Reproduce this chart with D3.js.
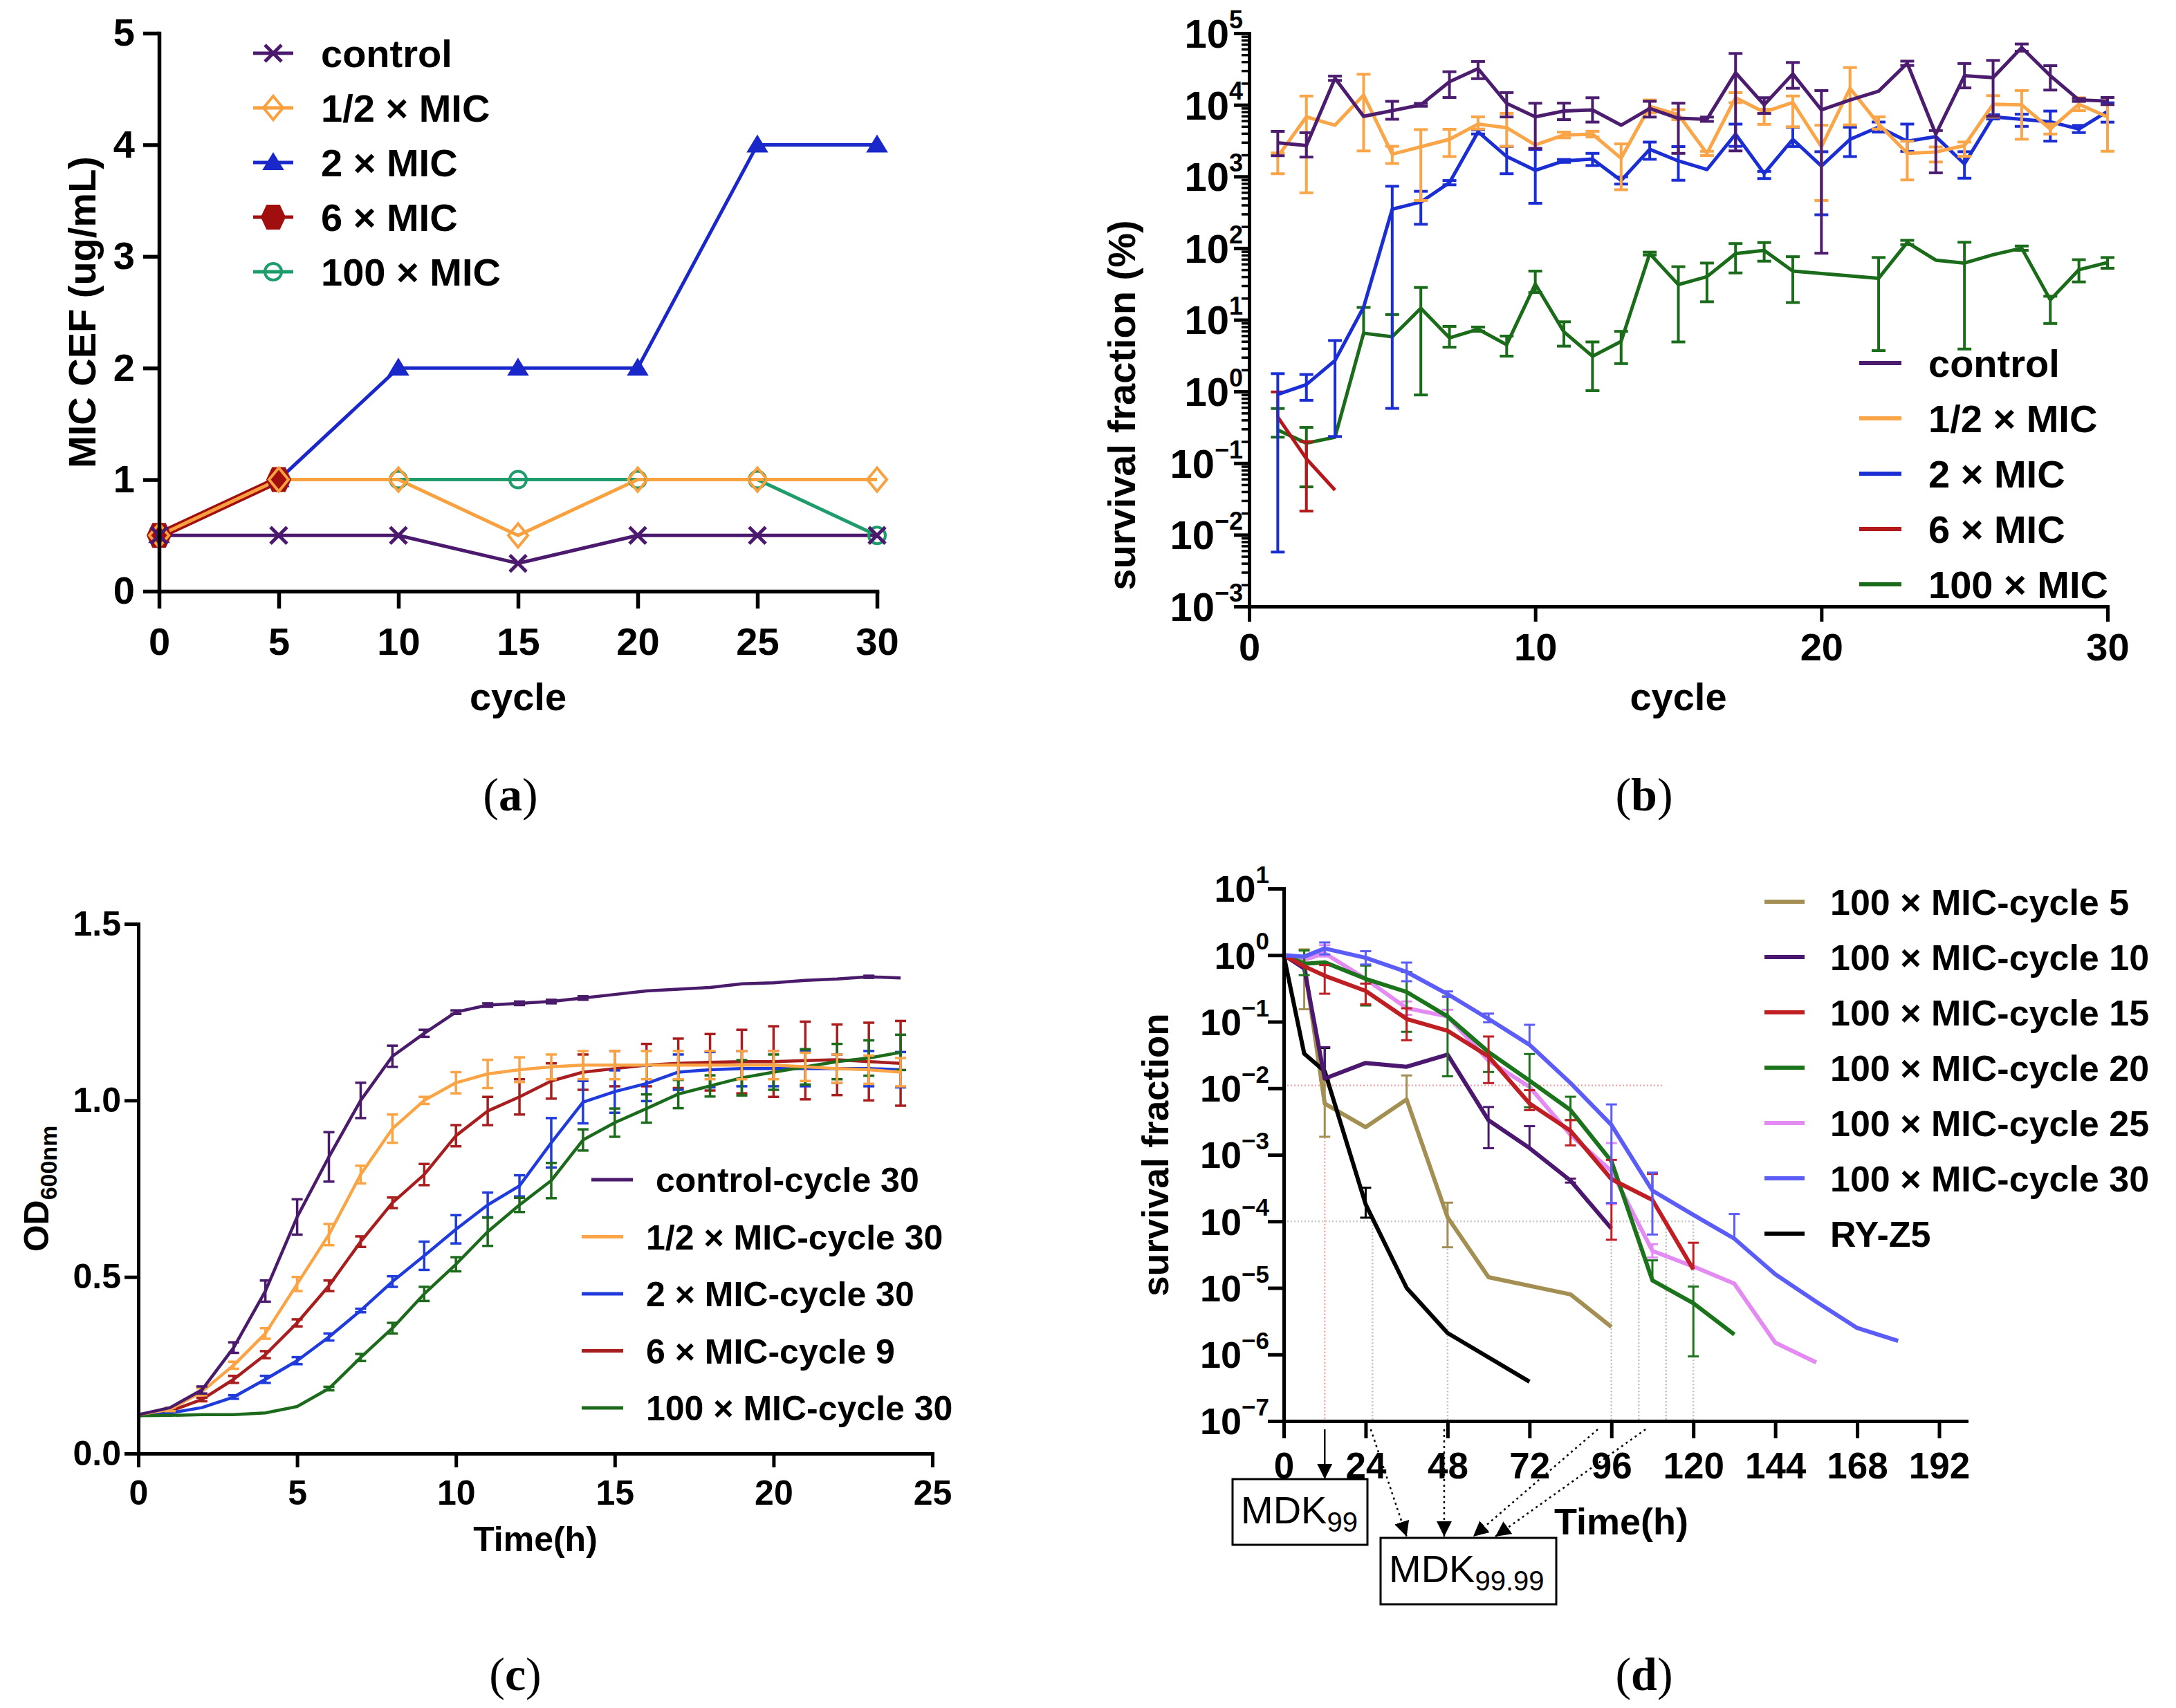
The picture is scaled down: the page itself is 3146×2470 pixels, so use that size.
<!DOCTYPE html>
<html><head><meta charset="utf-8">
<script src="https://cdn.jsdelivr.net/npm/d3@7"></script>
<style>html,body{margin:0;padding:0;background:#fff}svg{display:block}</style>
</head><body>
<script>
// ===================== DATA =====================
// ---- Panel (a): MIC over cycles ----
const aCycles = [0,5,10,15,20,25,30];
const aControl = [0.5,0.5,0.5,0.25,0.5,0.5,0.5];
const aHalfMIC = [0.5,1,1,0.5,1,1,1];
const aTwoMIC = [0.5,1,2,2,2,4,4];
const aSixCycles = [0,5];
const aSixMIC = [0.5,1];
const aHundredMIC = [0.5,1,1,1,1,1,0.5];
const aXTicks = [0,5,10,15,20,25,30];
const aYTicks = [0,1,2,3,4,5];

// ---- Panel (b): survival fraction (%) per cycle ----
const bCycles = [1,2,3,4,5,6,7,8,9,10,11,12,13,14,15,16,17,18,19,20,21,22,23,24,25,26,27,28,29,30];
const bControl = [2950,2700,23500,6900,8300,10000,21000,32000,10500,6800,8200,8500,5200,8900,6500,6300,28000,10000,27000,8500,11700,15500,38000,3900,25500,24000,63000,25500,11700,11300];
const bControlUp = [.16,.18,.03,0,.13,.02,.14,.1,.15,.19,.11,.17,0,.1,.21,.03,.27,.1,.16,.27,0,0,.03,.05,.17,.24,.05,.14,.02,.05];
const bControlDn = [.18,.16,.03,0,.12,.02,.22,.14,.19,.44,.12,.17,0,.12,.49,.03,1.09,.12,.2,2.0,0,0,.03,.54,.17,.54,.05,.2,.02,.05];
const bHalf = [1900,6800,5200,13700,2050,2600,3300,5400,4800,2750,3800,3900,1800,9500,7300,2100,12600,7900,10800,2600,17000,5400,2100,2200,2700,10200,10000,4600,10200,6800];
const bHalfUp = [.05,.29,0,.29,.11,.24,.14,.1,.2,0,.04,.04,.2,.09,.07,.03,.07,.04,.09,.3,.29,.1,.17,.07,.05,.12,.2,.07,.09,.27];
const bHalfDn = [.24,1.06,0,.78,.13,.75,.24,.07,.26,0,.04,.04,.44,.09,.07,.03,.07,.17,.34,.75,.51,.07,.37,.14,.15,.18,.48,.07,.09,.48];
const bTwo = [0.91,1.25,2.7,15,350,440,820,4200,1900,1220,1650,1750,880,2400,1650,1250,3900,1100,3300,1400,3300,4900,3100,3600,1500,6800,6300,5800,4600,8100];
const bTwoUp = [.29,.14,.28,0,.32,.15,.03,.03,.14,.29,.02,.08,.05,.1,.2,0,.14,.03,.17,.2,.17,.07,.24,0,.17,.03,.07,.15,.05,.12];
const bTwoDn = [2.2,.22,1.06,0,2.78,.31,.03,.03,.24,.46,.02,.09,.05,.14,.27,0,.17,.07,.1,.68,.24,.07,.14,0,.2,.03,.1,.27,.05,.15];
const bSixCycles = [1,2,3];
const bSix = [0.44,0.115,0.042];
const bSixUp = [.35,.24,0];
const bSixDn = [0,.73,0];
const bHundredCycles = [1,2,3,4,5,6,7,8,9,10,11,12,13,14,15,16,17,18,19,22,23,24,25,26,27,28,29,30];
const bHundred = [0.29,0.19,0.23,6.5,5.8,14.5,5.6,7.4,4.5,31.6,6.8,3.1,5,84,31,40,84,93,48,38,120,68,62,81,100,19,50,63];
const bHundredUp = [.3,.22,0,.36,.31,.29,.16,.03,.12,.18,.14,.2,.14,.02,.25,.19,.14,.11,.2,.29,.03,0,.29,0,.03,.05,.14,.07];
const bHundredDn = [.1,.61,0,0,0,1.21,.13,.03,.16,.12,.2,.48,.31,.02,.8,.35,.27,.15,.44,1.01,.03,0,1.2,0,.03,.33,.17,.08];
const bXTicks = [0,10,20,30];
const bYExps = [-3,-2,-1,0,1,2,3,4,5];

// ---- Panel (c): growth curves OD600 ----
const cHours = [0,1,2,3,4,5,6,7,8,9,10,11,12,13,14,15,16,17,18,19,20,21,22,23,24];
const cControl = [0.11,0.13,0.18,0.30,0.46,0.67,0.84,1.00,1.125,1.19,1.25,1.27,1.275,1.28,1.29,1.30,1.31,1.315,1.32,1.33,1.333,1.34,1.344,1.35,1.347];
const cControlErr = [0,0,0.01,0.015,0.03,0.05,0.07,0.05,0.03,0.01,0.005,0.005,0.005,0.005,0.005,0,0,0,0,0,0,0,0,0.003,0];
const cHalf = [0.11,0.125,0.175,0.25,0.34,0.48,0.62,0.79,0.92,1.0,1.05,1.075,1.087,1.095,1.1,1.1,1.1,1.1,1.1,1.1,1.1,1.095,1.09,1.087,1.08];
const cHalfErr = [0,0.005,0.01,0.01,0.015,0.02,0.03,0.025,0.04,0.01,0.03,0.04,0.035,0.035,0.04,0.04,0.04,0.04,0.04,0.04,0.04,0.04,0.04,0.04,0.04];
const cTwo = [0.107,0.115,0.13,0.16,0.21,0.263,0.33,0.405,0.487,0.56,0.635,0.704,0.758,0.88,0.995,1.025,1.048,1.08,1.087,1.09,1.09,1.09,1.09,1.09,1.087];
const cTwoErr = [0,0,0,0.005,0.01,0.01,0.01,0.005,0.015,0.04,0.04,0.035,0.03,0.07,0.06,0.06,0.05,0.05,0.05,0.05,0.05,0.05,0.04,0.05,0.05];
const cSix = [0.107,0.12,0.153,0.21,0.28,0.37,0.475,0.6,0.71,0.79,0.9,0.97,1.01,1.055,1.08,1.09,1.1,1.105,1.108,1.11,1.11,1.113,1.115,1.11,1.105];
const cSixErr = [0,0,0.005,0.01,0.01,0.01,0.015,0.015,0.015,0.03,0.03,0.04,0.05,0.05,0.05,0.05,0.06,0.07,0.08,0.09,0.1,0.11,0.1,0.11,0.12];
const cHundred = [0.107,0.108,0.11,0.11,0.115,0.133,0.184,0.272,0.355,0.452,0.536,0.628,0.704,0.773,0.888,0.937,0.977,1.018,1.041,1.064,1.08,1.095,1.11,1.12,1.136];
const cHundredErr = [0,0,0,0,0,0,0.005,0.01,0.015,0.02,0.02,0.04,0.02,0.05,0.03,0.04,0.04,0.04,0.03,0.05,0.05,0.05,0.05,0.05,0.05];
const cXTicks = [0,5,10,15,20,25];
const cYTicks = [0,0.5,1.0,1.5];

// ---- Panel (d): time-kill survival fraction ----
const dRYZ5T = [0,6,12,24,36,48,72];
const dRYZ5 = [1,0.033,0.018,1.8e-4,1e-5,2.1e-6,3.9e-7];
const dRYZ5Up = [0,0,.35,.25,0,0,0];
const dRYZ5Dn = [0,0,0,.2,0,0,0];
const dC5T = [0,6,12,24,36,48,60,84,96];
const dC5 = [1,0.77,5.9e-3,2.6e-3,6.8e-3,1.15e-4,1.45e-5,8e-6,2.6e-6];
const dC5Up = [0,.2,.35,0,.36,.22,0,0,0];
const dC5Dn = [0,.7,.5,0,0,.45,0,0,0];
const dC10T = [0,6,12,24,36,48,60,72,84,96];
const dC10 = [1,0.63,0.014,0.024,0.021,0.032,3.3e-3,1.26e-3,4.1e-4,7.8e-5];
const dC10Up = [0,0,.47,0,0,0,.2,.33,.03,0];
const dC10Dn = [0,0,0,0,0,0,.42,0,.03,0];
const dC15T = [0,6,12,24,36,48,60,72,84,96,108,120];
const dC15 = [1,0.68,0.49,0.29,0.11,0.073,0.030,5.9e-3,2.3e-3,4.3e-4,2.1e-4,1.9e-5];
const dC15Up = [0,0,.16,.11,.16,0,.3,.2,.16,.29,.39,.4];
const dC15Dn = [0,0,.27,.2,.32,0,.4,.1,.22,.91,0,0];
const dC20T = [0,6,12,24,36,48,60,72,84,96,108,120,132];
const dC20 = [1,0.74,0.78,0.44,0.28,0.12,0.035,0.013,4.7e-3,8e-4,1.3e-5,5.9e-6,2e-6];
const dC20Up = [0,.2,0,.2,.3,.3,0,.4,.2,0,.3,.25,0];
const dC20Dn = [0,.17,0,.4,.6,.9,.3,.4,.15,0,0,.8,0];
const dC25T = [0,6,12,24,36,48,60,72,84,96,108,120,132,144,156];
const dC25 = [1,0.85,1.07,0.44,0.16,0.12,0.026,0.0105,2e-3,5.7e-4,3.6e-5,2.1e-5,1.16e-5,1.5e-6,7.6e-7];
const dC25Up = [0,0,.12,0,.1,.1,0,0,0,.42,.1,0,0,0,0];
const dC25Dn = [0,0,.05,0,.1,0,0,0,0,.5,.1,0,0,0,0];
const dC30T = [0,6,12,24,36,48,60,72,84,96,108,120,132,144,156,168,180];
const dC30 = [1,0.95,1.26,0.91,0.56,0.26,0.11,0.045,0.012,2.8e-3,2.9e-4,1.25e-4,5.5e-5,1.6e-5,6.2e-6,2.5e-6,1.6e-6];
const dC30Up = [0,0,.09,.1,.14,.04,.08,.3,0,.31,.27,0,.37,0,0,0,0];
const dC30Dn = [0,0,.09,.1,.14,.04,.05,0,0,1.17,.66,0,0,0,0,0,0];
const dXTicks = [0,24,48,72,96,120,144,168,192];
const dYExps = [-7,-6,-5,-4,-3,-2,-1,0,1];
// reference (threshold) lines: 99% and 99.99% kill
const dThreshold99 = 0.011, dThreshold9999 = 1e-4;
const dH99End = 111, dH9999End = 120;
const dV99Times = [12];
const dV9999Times = [26,48,96,104,112,120];
// arrows toward MDK boxes: [from time, to time]
const dArrow99 = [[12,12]];
const dArrow9999 = [[25.5,36],[47,47],[92,55.5],[106,62]];

// ===================== DRAWING =====================
const W = 3146, H = 2470;
const FF = '"Liberation Sans", Arial, Helvetica, sans-serif';
const SERIF = '"Liberation Serif", "Times New Roman", serif';
const svg = d3.select('body').append('svg').attr('width', W).attr('height', H);
svg.append('rect').attr('width', W).attr('height', H).attr('fill', '#fff');
const defs = svg.append('defs');
defs.append('marker').attr('id','ah').attr('viewBox','0 0 10 10').attr('refX',10).attr('refY',5)
  .attr('markerWidth',22).attr('markerHeight',22).attr('markerUnits','userSpaceOnUse').attr('orient','auto')
  .append('path').attr('d','M0,0L10,5L0,10Z').attr('fill','#000');

function styleAxis(g, sw, fs) {
  g.attr('font-size', null);
  g.select('.domain').attr('stroke', '#000').attr('stroke-width', sw).attr('stroke-linecap','square');
  g.selectAll('.tick line').attr('stroke', '#000').attr('stroke-width', sw);
  g.selectAll('.tick text').attr('fill', '#000').attr('font-family', FF).attr('font-weight', 'bold').attr('font-size', fs);
}
function txt(g, x, y, s, fs, opts = {}) {
  return g.append('text').attr('x', x).attr('y', y).text(s)
    .attr('font-family', opts.family || FF).attr('font-weight', opts.weight || 'bold')
    .attr('font-size', fs).attr('text-anchor', opts.anchor || 'start').attr('dy', opts.dy || null).attr('fill', '#000');
}
function rotLabel(g, x, y, s, fs) {
  return g.append('text').attr('transform', `translate(${x},${y}) rotate(-90)`).attr('text-anchor', 'middle')
    .attr('font-family', FF).attr('font-weight', 'bold').attr('font-size', fs).attr('fill','#000').text(s);
}
function logLabels(g, scale, exps, xRight, fs, supFs) {
  exps.forEach(e => {
    const t = g.append('text').attr('x', xRight).attr('y', scale(Math.pow(10, e))).attr('text-anchor', 'end')
      .attr('font-family', FF).attr('font-weight', 'bold').attr('font-size', fs).attr('fill','#000');
    t.append('tspan').attr('dy', '0.36em').text('10');
    t.append('tspan').attr('dy', '-0.78em').attr('font-size', supFs).text(e < 0 ? '\u2212' + (-e) : String(e));
  });
}
function errBar(g, x, yv, yLo, yHi, cap, color, sw) {
  g.append('line').attr('x1', x).attr('x2', x).attr('y1', yLo).attr('y2', yHi).attr('stroke', color).attr('stroke-width', sw);
  if (Math.abs(yHi - yv) > 1) g.append('line').attr('x1', x - cap/2).attr('x2', x + cap/2).attr('y1', yHi).attr('y2', yHi).attr('stroke', color).attr('stroke-width', sw);
  if (Math.abs(yLo - yv) > 1) g.append('line').attr('x1', x - cap/2).attr('x2', x + cap/2).attr('y1', yLo).attr('y2', yLo).attr('stroke', color).attr('stroke-width', sw);
}
function panelLabel(x, y, letter) {
  const t = svg.append('text').attr('x', x).attr('y', y).attr('text-anchor', 'middle')
    .attr('font-family', SERIF).attr('font-size', 68).attr('fill','#000');
  t.append('tspan').text('(');
  t.append('tspan').attr('font-weight', 'bold').text(letter);
  t.append('tspan').text(')');
}

// ---------- Panel (a) ----------
(function () {
  const g = svg.append('g');
  const x = d3.scaleLinear().domain([0, 30]).range([230, 1268]);
  const y = d3.scaleLinear().domain([0, 5]).range([855, 48]);
  const series = [
    { name: 'control', xs: aCycles, ys: aControl, color: '#4B1A6E', marker: 'x', lw: 5 },
    { name: '1/2 × MIC', xs: aCycles, ys: aHalfMIC, color: '#F9A03F', marker: 'diamond', lw: 5 },
    { name: '2 × MIC', xs: aCycles, ys: aTwoMIC, color: '#1A27C9', marker: 'triangle', lw: 5 },
    { name: '6 × MIC', xs: aSixCycles, ys: aSixMIC, color: '#A00E0E', marker: 'hexagon', lw: 12 },
    { name: '100 × MIC', xs: aCycles, ys: aHundredMIC, color: '#1E9C6B', marker: 'circle', lw: 5 }
  ];
  const markerPath = {
    x: 'M-12,-12L12,12M-12,12L12,-12',
    diamond: 'M0,-17L14,0L0,17L-14,0Z',
    triangle: 'M0,-13L14,10L-14,10Z',
    hexagon: 'M-9,-17L9,-17L17,0L9,17L-9,17L-17,0Z',
    circle: 'M12,0A12,12 0 1,1 -12,0A12,12 0 1,1 12,0Z'
  };
  function drawMarker(gg, s, cx, cy) {
    const p = gg.append('path').attr('d', markerPath[s.marker]).attr('transform', `translate(${cx},${cy})`);
    if (s.marker === 'triangle' || s.marker === 'hexagon') p.attr('fill', s.color).attr('stroke', s.color).attr('stroke-width', 2);
    else p.attr('fill', 'none').attr('stroke', s.color).attr('stroke-width', s.marker === 'x' ? 5 : 4);
  }
  const line = d3.line().x(d => x(d[0])).y(d => y(d[1]));
  const drawOrder = [4, 2, 3, 1, 0];
  drawOrder.forEach(i => {
    const s = series[i];
    const pts = s.xs.map((c, k) => [c, s.ys[k]]);
    g.append('path').attr('d', line(pts)).attr('fill', 'none').attr('stroke', s.color).attr('stroke-width', s.lw).attr('stroke-linejoin','round');
  });
  drawOrder.forEach(i => {
    const s = series[i];
    s.xs.forEach((c, k) => drawMarker(g, s, x(c), y(s.ys[k])));
  });
  g.append('g').attr('transform', `translate(0,${y(0)})`)
    .call(d3.axisBottom(x).tickValues(aXTicks).tickFormat(d3.format('d')).tickSize(25).tickSizeOuter(0).tickPadding(27)).call(styleAxis, 5.5, 56);
  g.append('g').attr('transform', `translate(${x(0)},0)`)
    .call(d3.axisLeft(y).tickValues(aYTicks).tickFormat(d3.format('d')).tickSize(23).tickSizeOuter(0).tickPadding(12)).call(styleAxis, 5.5, 56);
  txt(g, (x(0) + x(30)) / 2, 1027, 'cycle', 56, { anchor: 'middle' });
  rotLabel(g, 138, (y(0) + y(5)) / 2, 'MIC CEF (ug/mL)', 56);
  // legend
  series.forEach((s, i) => {
    const ly = 77 + i * 79;
    g.append('line').attr('x1', 366).attr('x2', 424).attr('y1', ly).attr('y2', ly).attr('stroke', s.color).attr('stroke-width', 5);
    drawMarker(g, s, 395, ly);
    txt(g, 464, ly, s.name, 56, { dy: '0.36em' });
  });
  panelLabel(738, 1172, 'a');
})();

// ---------- Panel (b) ----------
(function () {
  const g = svg.append('g');
  const x = d3.scaleLinear().domain([0, 30]).range([1806, 3047]);
  const y = d3.scaleLog().domain([1e-3, 1e5]).range([877, 48]);
  const series = [
    { name: 'control', xs: bCycles, ys: bControl, up: bControlUp, dn: bControlDn, color: '#4C1D6F' },
    { name: '1/2 × MIC', xs: bCycles, ys: bHalf, up: bHalfUp, dn: bHalfDn, color: '#F9A548' },
    { name: '2 × MIC', xs: bCycles, ys: bTwo, up: bTwoUp, dn: bTwoDn, color: '#1B2ED4' },
    { name: '6 × MIC', xs: bSixCycles, ys: bSix, up: bSixUp, dn: bSixDn, color: '#B5181B' },
    { name: '100 × MIC', xs: bHundredCycles, ys: bHundred, up: bHundredUp, dn: bHundredDn, color: '#1A6B1A' }
  ];
  const line = d3.line().x(d => x(d[0])).y(d => y(d[1]));
  const clampY = v => y(Math.max(1e-3, Math.min(1e5, v)));
  [4, 3, 2, 1, 0].forEach(i => {
    const s = series[i];
    s.xs.forEach((c, k) => {
      if (s.up[k] === 0 && s.dn[k] === 0) return;
      const v = s.ys[k];
      errBar(g, x(c), y(v), clampY(v / Math.pow(10, s.dn[k])), clampY(v * Math.pow(10, s.up[k])), 20, s.color, 4);
    });
    g.append('path').attr('d', line(s.xs.map((c, k) => [c, s.ys[k]]))).attr('fill', 'none')
      .attr('stroke', s.color).attr('stroke-width', 5).attr('stroke-linejoin', 'round');
  });
  g.append('g').attr('transform', `translate(0,${y(1e-3)})`)
    .call(d3.axisBottom(x).tickValues(bXTicks).tickSize(22).tickSizeOuter(0).tickPadding(16)).call(styleAxis, 5, 56);
  const minor = [];
  bYExps.slice(0, -1).forEach(e => { for (let m = 2; m <= 9; m++) minor.push(m * Math.pow(10, e)); });
  g.append('g').attr('transform', `translate(${x(0)},0)`)
    .call(d3.axisLeft(y).tickValues(minor).tickSize(11).tickSizeOuter(0).tickFormat('')).call(styleAxis, 3.5, 10);
  g.append('g').attr('transform', `translate(${x(0)},0)`)
    .call(d3.axisLeft(y).tickValues(bYExps.map(e => Math.pow(10, e))).tickSize(22).tickSizeOuter(0).tickFormat('')).call(styleAxis, 5, 10);
  logLabels(g, y, bYExps, 1797, 58, 36);
  txt(g, (x(0) + x(30)) / 2, 1027, 'cycle', 56, { anchor: 'middle' });
  rotLabel(g, 1641, 586, 'survival fraction (%)', 56);
  series.forEach((s, i) => {
    const ly = 525 + i * 80;
    g.append('line').attr('x1', 2688).attr('x2', 2749).attr('y1', ly).attr('y2', ly).attr('stroke', s.color).attr('stroke-width', 6);
    txt(g, 2788, ly, s.name, 56, { dy: '0.36em' });
  });
  panelLabel(2377, 1172, 'b');
})();

// ---------- Panel (c) ----------
(function () {
  const g = svg.append('g');
  const x = d3.scaleLinear().domain([0, 25]).range([200, 1348]);
  const y = d3.scaleLinear().domain([0, 1.5]).range([2102, 1336]);
  const series = [
    { name: 'control-cycle 30', ys: cControl, err: cControlErr, color: '#4A1A6B', off: 14 },
    { name: '1/2 × MIC-cycle 30', ys: cHalf, err: cHalfErr, color: '#FBA445', off: 0 },
    { name: '2 × MIC-cycle 30', ys: cTwo, err: cTwoErr, color: '#1F3BDB', off: 0 },
    { name: '6 × MIC-cycle 9', ys: cSix, err: cSixErr, color: '#A81E1E', off: 0 },
    { name: '100 × MIC-cycle 30', ys: cHundred, err: cHundredErr, color: '#1C6B1C', off: 0 }
  ];
  const line = d3.line().x(d => x(d[0])).y(d => y(d[1]));
  [3, 2, 4, 1, 0].forEach(i => {
    const s = series[i];
    cHours.forEach((h, k) => {
      if (!s.err[k]) return;
      errBar(g, x(h), y(s.ys[k]), y(s.ys[k] - s.err[k]), y(s.ys[k] + s.err[k]), 16, s.color, 3.5);
    });
    g.append('path').attr('d', line(cHours.map((h, k) => [h, s.ys[k]]))).attr('fill', 'none')
      .attr('stroke', s.color).attr('stroke-width', 4.5).attr('stroke-linejoin', 'round');
  });
  g.append('g').attr('transform', `translate(0,${y(0)})`)
    .call(d3.axisBottom(x).tickValues(cXTicks).tickSize(20).tickSizeOuter(0).tickPadding(18)).call(styleAxis, 5, 50);
  g.append('g').attr('transform', `translate(${x(0)},0)`)
    .call(d3.axisLeft(y).tickValues(cYTicks).tickFormat(d3.format('.1f')).tickSize(20).tickSizeOuter(0).tickPadding(5)).call(styleAxis, 5, 50);
  txt(g, (x(0) + x(25)) / 2, 2243, 'Time(h)', 50, { anchor: 'middle' });
  const yl = g.append('text').attr('transform', `translate(70,${(y(0) + y(1.5)) / 2}) rotate(-90)`).attr('text-anchor', 'middle')
    .attr('font-family', FF).attr('font-weight', 'bold').attr('font-size', 50).attr('fill','#000');
  yl.append('tspan').text('OD');
  yl.append('tspan').attr('font-size', 34).attr('dy', '0.35em').text('600nm');
  series.forEach((s, i) => {
    const ly = 1706 + i * 82.5;
    g.append('line').attr('x1', 841 + s.off).attr('x2', 901 + s.off).attr('y1', ly).attr('y2', ly).attr('stroke', s.color).attr('stroke-width', 5);
    txt(g, 934 + s.off, ly, s.name, 50, { dy: '0.36em' });
  });
  panelLabel(745, 2444, 'c');
})();

// ---------- Panel (d) ----------
(function () {
  const g = svg.append('g');
  const x = d3.scaleLinear().domain([0, 200]).range([1856, 2843]);
  const y = d3.scaleLog().domain([1e-7, 10]).range([2055, 1285]);
  const series = [
    { name: '100 × MIC-cycle 5', ts: dC5T, ys: dC5, up: dC5Up, dn: dC5Dn, color: '#A38F52' },
    { name: '100 × MIC-cycle 10', ts: dC10T, ys: dC10, up: dC10Up, dn: dC10Dn, color: '#4B176F' },
    { name: '100 × MIC-cycle 15', ts: dC15T, ys: dC15, up: dC15Up, dn: dC15Dn, color: '#BF1E22' },
    { name: '100 × MIC-cycle 20', ts: dC20T, ys: dC20, up: dC20Up, dn: dC20Dn, color: '#1B731B' },
    { name: '100 × MIC-cycle 25', ts: dC25T, ys: dC25, up: dC25Up, dn: dC25Dn, color: '#E48BF3' },
    { name: '100 × MIC-cycle 30', ts: dC30T, ys: dC30, up: dC30Up, dn: dC30Dn, color: '#5C5CF6' },
    { name: 'RY-Z5', ts: dRYZ5T, ys: dRYZ5, up: dRYZ5Up, dn: dRYZ5Dn, color: '#000000' }
  ];
  // threshold reference lines
  const y0 = y(1e-7);
  g.append('line').attr('x1', x(0)).attr('x2', x(dH99End)).attr('y1', y(dThreshold99)).attr('y2', y(dThreshold99))
    .attr('stroke', '#F2A6A6').attr('stroke-width', 2.5).attr('stroke-dasharray', '2,3');
  g.append('line').attr('x1', x(0)).attr('x2', x(dH9999End)).attr('y1', y(dThreshold9999)).attr('y2', y(dThreshold9999))
    .attr('stroke', '#C8C8C8').attr('stroke-width', 2.5).attr('stroke-dasharray', '2,3');
  dV99Times.forEach(t => g.append('line').attr('x1', x(t)).attr('x2', x(t)).attr('y1', y(dThreshold99)).attr('y2', y0)
    .attr('stroke', '#F2A6A6').attr('stroke-width', 2.5).attr('stroke-dasharray', '2,3'));
  dV9999Times.forEach(t => g.append('line').attr('x1', x(t)).attr('x2', x(t)).attr('y1', y(dThreshold9999)).attr('y2', y0)
    .attr('stroke', '#BEBEBE').attr('stroke-width', 2.5).attr('stroke-dasharray', '2,3'));

  const line = d3.line().x(d => x(d[0])).y(d => y(d[1]));
  const clampY = v => y(Math.max(1e-7, Math.min(10, v)));
  [4, 0, 6, 1, 3, 2, 5].forEach(i => {
    const s = series[i];
    s.ts.forEach((t, k) => {
      if (s.up[k] === 0 && s.dn[k] === 0) return;
      const v = s.ys[k];
      errBar(g, x(t), y(v), clampY(v / Math.pow(10, s.dn[k])), clampY(v * Math.pow(10, s.up[k])), 16, s.color, 3);
    });
    g.append('path').attr('d', line(s.ts.map((t, k) => [t, s.ys[k]]))).attr('fill', 'none')
      .attr('stroke', s.color).attr('stroke-width', 6).attr('stroke-linejoin', 'round');
  });
  g.append('g').attr('transform', `translate(0,${y0})`)
    .call(d3.axisBottom(x).tickValues(dXTicks).tickSize(25).tickSizeOuter(0).tickPadding(20)).call(styleAxis, 5, 53);
  g.append('g').attr('transform', `translate(${x(0)},0)`)
    .call(d3.axisLeft(y).tickValues(dYExps.map(e => Math.pow(10, e))).tickSize(23).tickSizeOuter(0).tickFormat('')).call(styleAxis, 5, 10);
  logLabels(g, y, dYExps, 1835, 54, 35);
  txt(g, 2247, 2219, 'Time(h)', 54);
  rotLabel(g, 1689, (y(1e-7) + y(10)) / 2, 'survival fraction', 53);
  series.forEach((s, i) => {
    const ly = 1304 + i * 80;
    g.append('line').attr('x1', 2551).attr('x2', 2609).attr('y1', ly).attr('y2', ly).attr('stroke', s.color).attr('stroke-width', 6);
    txt(g, 2646, ly, s.name, 52, { dy: '0.36em' });
  });
  // MDK boxes and arrows
  const box99 = { x: x(0) - 74, y: y0 + 84, w: 195, h: 95, main: 'MDK', sub: '99' };
  const box9999 = { x: x(0) + 140, y: y0 + 169, w: 254, h: 96, main: 'MDK', sub: '99.99' };
  [box99, box9999].forEach(b => {
    g.append('rect').attr('x', b.x).attr('y', b.y).attr('width', b.w).attr('height', b.h)
      .attr('fill', '#fff').attr('stroke', '#000').attr('stroke-width', 3);
    const t = g.append('text').attr('x', b.x + 12).attr('y', b.y + 64).attr('font-family', FF).attr('font-size', 56).attr('fill','#000');
    t.append('tspan').text(b.main);
    t.append('tspan').attr('font-size', 40).attr('dy', '0.3em').text(b.sub);
  });
  dArrow99.forEach(a => g.append('line').attr('x1', x(a[0])).attr('y1', y0 + 12).attr('x2', x(a[1])).attr('y2', box99.y)
    .attr('stroke', '#000').attr('stroke-width', 2.5).attr('marker-end', 'url(#ah)'));
  dArrow9999.forEach(a => g.append('line').attr('x1', x(a[0])).attr('y1', y0 + 12).attr('x2', x(a[1])).attr('y2', box9999.y - 2)
    .attr('stroke', '#000').attr('stroke-width', 2.5).attr('stroke-dasharray', '3,5').attr('marker-end', 'url(#ah)'));
  panelLabel(2377, 2444, 'd');
})();
</script>
</body></html>
